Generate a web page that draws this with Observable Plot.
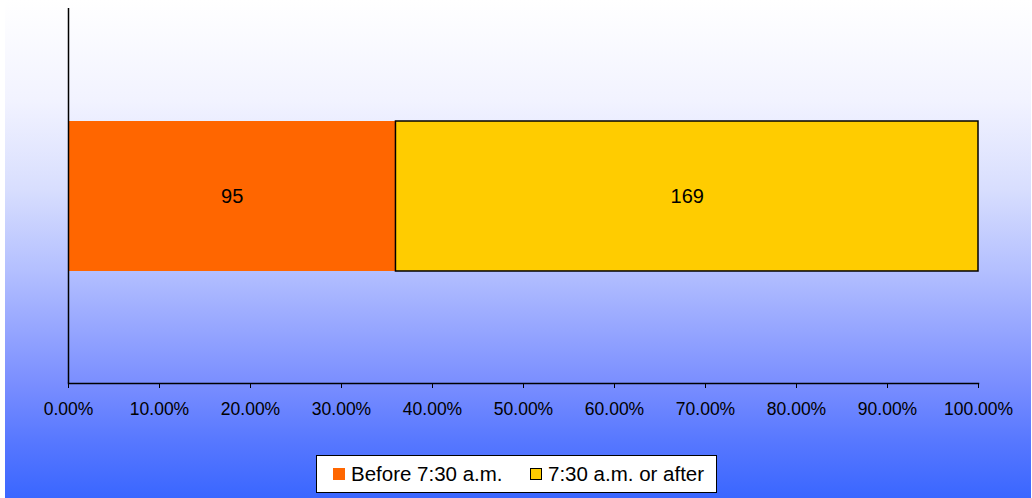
<!DOCTYPE html>
<html>
<head>
<meta charset="utf-8">
<script src="https://cdn.jsdelivr.net/npm/d3@7"></script>
<script src="https://cdn.jsdelivr.net/npm/@observablehq/plot@0.6"></script>
<style>
  html, body { margin: 0; padding: 0; background: #ffffff; }
  #wrap { position: relative; width: 1032px; height: 498px; overflow: hidden; font-family: "Liberation Sans", Arial, sans-serif; }
  #bg { position: absolute; left: 5px; top: 0; width: 1026px; height: 498px;
        background: linear-gradient(to bottom, #ffffff 0%, #f2f3ff 20%, #d8defe 38%, #b4c0ff 54%, #96a6ff 66%, #7a8eff 77%, #5677ff 89%, #3a66ff 100%); }
  #chart { position: absolute; left: 0; top: 0; }
  #legend { position: absolute; left: 316px; top: 455px; width: 401px; height: 38px; box-sizing: border-box;
            background: #fff; border: 1.5px solid #000; font-size: 20.5px; color: #000; }
  .item { position: absolute; top: 0; height: 35px; line-height: 35px; white-space: nowrap; }
  .sw { position: absolute; top: 12px; width: 12px; height: 12px; box-sizing: border-box; }
</style>
</head>
<body>
<div id="wrap">
  <div id="bg"></div>
  <div id="chart"></div>
  <div id="legend"></div>
</div>
<script>
const categories = ["Before 7:30 a.m.", "7:30 a.m. or after"];
const counts = [95, 169];
const colors = ["#FF6600", "#FFCC00"];
const swatchStroke = ["none", "#000000"];
const tickValues = [0, 0.1, 0.2, 0.3, 0.4, 0.5, 0.6, 0.7, 0.8, 0.9, 1.0];
const tickLabels = ["0.00%", "10.00%", "20.00%", "30.00%", "40.00%", "50.00%", "60.00%", "70.00%", "80.00%", "90.00%", "100.00%"];
const group = "All";

const total = d3.sum(counts);
let acc = 0;
const rows = categories.map((c, i) => {
  const x1 = acc / total;
  acc += counts[i];
  return {category: c, count: counts[i], x1, x2: acc / total, group};
});

const chart = Plot.plot({
  width: 1032,
  height: 440,
  marginLeft: 68,
  marginRight: 54,
  marginTop: 8,
  marginBottom: 57,
  style: {background: "transparent", fontFamily: "'Liberation Sans', Arial, sans-serif", color: "#000", overflow: "visible"},
  x: {domain: [0, 1]},
  y: {domain: [group], padding: 0.4286, axis: null},
  color: {domain: categories, range: colors},
  marks: [
    Plot.barX(rows, {x1: "x1", x2: "x2", y: "group", fill: "category"}),
    Plot.barX(rows.filter(d => d.category === categories[1]), {x1: "x1", x2: "x2", y: "group", fill: "none", stroke: "#000", strokeWidth: 1.5}),
    Plot.text(rows, {x: d => (d.x1 + d.x2) / 2, y: "group", text: d => String(d.count), fontSize: 20, fill: "#000"}),
    Plot.ruleX([0], {stroke: "#000", strokeWidth: 1.5}),
    Plot.frame({anchor: "bottom", stroke: "#000", strokeWidth: 1.5}),
    Plot.axisX(tickValues, {
      tickSize: 5,
      tickPadding: 14,
      tickFormat: (d, i) => tickLabels[i],
      fontSize: 17.5,
      stroke: "#000",
      fill: "#000",
      label: null
    })
  ]
});
document.getElementById("chart").appendChild(chart);

const legend = document.getElementById("legend");
const swX = [16, 213];
const txX = [34, 231];
categories.forEach((c, i) => {
  const sw = document.createElement("div");
  sw.className = "sw";
  sw.style.left = swX[i] + "px";
  sw.style.background = colors[i];
  if (swatchStroke[i] !== "none") sw.style.border = "1.5px solid " + swatchStroke[i];
  legend.appendChild(sw);
  const t = document.createElement("div");
  t.className = "item";
  t.style.left = txX[i] + "px";
  t.textContent = c;
  legend.appendChild(t);
});
</script>
</body>
</html>
